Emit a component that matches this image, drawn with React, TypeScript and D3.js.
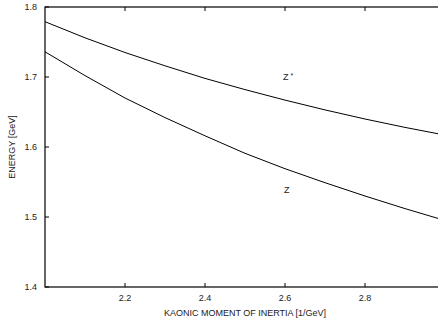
import React from "react";
import * as d3 from "d3";

const inertia = [2.0, 2.1, 2.2, 2.3, 2.4, 2.5, 2.6, 2.7, 2.8, 2.9, 3.0];
const energyZ = [1.736, 1.702, 1.67, 1.642, 1.616, 1.591, 1.569, 1.549, 1.53, 1.512, 1.495];
const energyZStar = [1.779, 1.756, 1.735, 1.716, 1.698, 1.682, 1.667, 1.653, 1.64, 1.628, 1.617];
const xTicks = [2.2, 2.4, 2.6, 2.8];
const yTicks = [1.4, 1.5, 1.6, 1.7, 1.8];

const W = 438;
const H = 320;
const left = 45;
const right = 445;
const top = 7;
const bottom = 287;

export default function App() {
  const x = d3.scaleLinear().domain([2.0, 3.0]).range([left, right]);
  const y = d3.scaleLinear().domain([1.4, 1.8]).range([bottom, top]);
  const line = d3
    .line<number>()
    .x((_, i) => x(inertia[i]))
    .y((d) => y(d));
  const font = "'Liberation Sans', Arial, Helvetica, sans-serif";
  const tl = 4;
  return (
    <svg
      width={W}
      height={H}
      style={{ position: "absolute", left: 0, top: 0, background: "#fff" }}
      fontFamily={font}
    >
      <defs>
        <clipPath id="plot">
          <rect x={left} y={top} width={right - left} height={bottom - top} />
        </clipPath>
      </defs>
      <rect x={0} y={0} width={W} height={H} fill="#fff" />
      {/* frame */}
      <rect
        x={left}
        y={top}
        width={right - left}
        height={bottom - top}
        fill="none"
        stroke="#000"
        strokeWidth={1.2}
      />
      {/* y ticks */}
      {yTicks.map((t) => (
        <g key={"y" + t}>
          <line x1={left} x2={left + tl} y1={y(t)} y2={y(t)} stroke="#000" />
          <line x1={right} x2={right - tl} y1={y(t)} y2={y(t)} stroke="#000" />
          <text x={left - 8} y={y(t) + 3} fontSize={9} textAnchor="end" fill="#222">
            {t.toFixed(1)}
          </text>
        </g>
      ))}
      {/* x ticks */}
      {xTicks.map((t) => (
        <g key={"x" + t}>
          <line x1={x(t)} x2={x(t)} y1={bottom} y2={bottom - tl} stroke="#000" />
          <line x1={x(t)} x2={x(t)} y1={top} y2={top + tl} stroke="#000" />
          <text x={x(t)} y={bottom + 14} fontSize={9} textAnchor="middle" fill="#222">
            {t.toFixed(1)}
          </text>
        </g>
      ))}
      <g clipPath="url(#plot)">
        <path d={line(energyZStar) || ""} fill="none" stroke="#000" strokeWidth={1} />
        <path d={line(energyZ) || ""} fill="none" stroke="#000" strokeWidth={1} />
      </g>
      <text x={283} y={80} fontSize={9} fill="#222">
        Z
        <tspan fontSize={7} dx={2} dy={-2}>
          *
        </tspan>
      </text>
      <text x={284} y={193} fontSize={9} fill="#222">
        Z
      </text>
      <text x={(left + right) / 2} y={316} fontSize={9} textAnchor="middle" fill="#222">
        KAONIC MOMENT OF INERTIA [1/GeV]
      </text>
      <text
        transform={`translate(15,${(top + bottom) / 2}) rotate(-90)`}
        fontSize={9}
        textAnchor="middle"
        fill="#222"
      >
        ENERGY [GeV]
      </text>
    </svg>
  );
}
